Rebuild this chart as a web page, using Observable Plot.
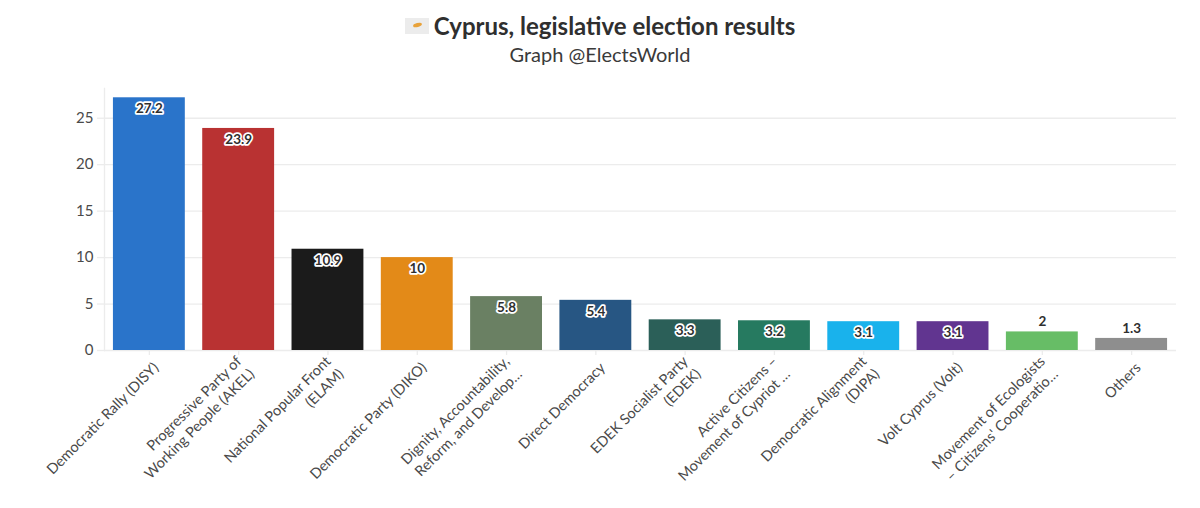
<!DOCTYPE html>
<html>
<head>
<meta charset="utf-8">
<script src="https://cdn.jsdelivr.net/npm/d3@7"></script>
<script src="https://cdn.jsdelivr.net/npm/@observablehq/plot@0.6"></script>
<style>
html,body{margin:0;padding:0;background:#fff;overflow:hidden}
#head{height:70px;box-sizing:border-box;padding-top:11px;text-align:center;color:#2f2f2f;font-family:Lato,sans-serif}
#title{font-size:24px;font-weight:700;line-height:30px;height:30px;display:flex;justify-content:center;align-items:center;gap:5px}
#flag{display:inline-block;width:24px;height:16px;background:#ececec;position:relative}
#flag i{position:absolute;left:8px;top:5px;width:9px;height:4px;border-radius:50%;background:#e8a23a;transform:rotate(-15deg)}
#sub{font-size:20px;line-height:26px;color:#3a3a3a}
svg{display:block}
</style>
</head>
<body>
<div id="head">
  <div id="title"><span id="flag"><i></i></span><span>Cyprus, legislative election results</span></div>
  <div id="sub">Graph @ElectsWorld</div>
</div>
<div id="chart"></div>
<script>
const parties = [
  "Democratic Rally (DISY)",
  "Progressive Party of\nWorking People (AKEL)",
  "National Popular Front\n(ELAM)",
  "Democratic Party (DIKO)",
  "Dignity, Accountability,\nReform, and Develop…",
  "Direct Democracy",
  "EDEK Socialist Party\n(EDEK)",
  "Active Citizens –\nMovement of Cypriot …",
  "Democratic Alignment\n(DIPA)",
  "Volt Cyprus (Volt)",
  "Movement of Ecologists\n– Citizens' Cooperatio…",
  "Others"
];
const shares = [27.2, 23.9, 10.9, 10, 5.8, 5.4, 3.3, 3.2, 3.1, 3.1, 2, 1.3];
const colors = ["#2a74ca","#b93232","#1b1b1b","#e38a18","#6a8063","#275683","#2b5f58","#267a60","#19b2ec","#613590","#67bd66","#8e8e8e"];
const yTicks = [0, 5, 10, 15, 20, 25];
const rows = parties.map((party, i) => ({party, share: shares[i], color: colors[i]}));
const ink = "#2f2f2f", rule = "#ececec";

const chart = Plot.plot({
  width: 1200,
  height: 438,
  marginTop: 18,
  marginBottom: 158,
  marginLeft: 104,
  marginRight: 24,
  style: {fontFamily: 'Lato, sans-serif', background: "#fff"},
  x: {domain: parties, paddingInner: 0.195, paddingOuter: 0.1, round: false},
  y: {domain: [0, 28.2]},
  marks: [
    Plot.frame({anchor: "left", stroke: rule, strokeWidth: 1.3}),
    Plot.ruleY(yTicks.slice(1), {stroke: rule, strokeWidth: 1.3}),
    Plot.axisY({ticks: yTicks, anchor: "left", label: null, tickSize: 7, stroke: rule, strokeWidth: 1.3, color: "#4a4a4a", fontSize: 15, tickPadding: 4}),
    Plot.ruleY([0], {stroke: rule, strokeWidth: 1.5}),
    Plot.axisX({label: null, text: null, tickSize: 5, stroke: rule, strokeWidth: 1.3}),
    Plot.axisX({label: null, tickSize: 0, tickRotate: -45, fontSize: 14.5, color: "#4a4a4a", tickPadding: 6, lineHeight: 1.25, dx: 6, dy: 8}),
    Plot.barY(rows, {x: "party", y: "share", fill: "color"}),
    Plot.text(rows.filter(d => d.share >= 3), {x: "party", y: "share", text: d => String(d.share), dy: 11, fill: ink, stroke: "#fff", strokeWidth: 3.5, fontWeight: 700, fontSize: 13.5}),
    Plot.text(rows.filter(d => d.share < 3), {x: "party", y: "share", text: d => String(d.share), dy: -10, fill: ink, fontWeight: 700, fontSize: 13.5})
  ]
});
document.getElementById("chart").append(chart);
</script>
</body>
</html>
